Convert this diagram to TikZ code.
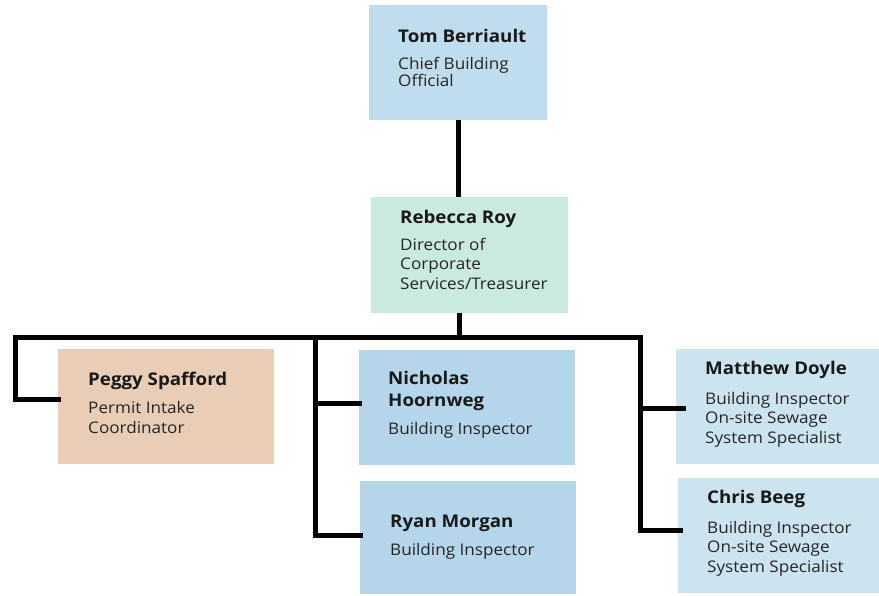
\documentclass[tikz,border=0pt]{standalone}
\usepackage{fontspec}
\setmainfont{Open Sans}[FakeStretch=1.07]
\newcommand{\lns}[1]{\begin{tabular}[t]{@{}l@{}}#1\end{tabular}}
\begin{document}
\begin{tikzpicture}[x=1pt,y=-1pt,
  box/.style={rectangle,draw=none,inner sep=0pt,anchor=north west},
  nm/.style={anchor=base west,inner sep=0pt,font=\fontsize{17.5}{22}\selectfont\bfseries,text=black!90},
  tl/.style={anchor=base west,inner sep=0pt,font=\fontsize{16}{19.5}\selectfont,text=black!85},
  conn/.style={line width=5pt,black,line join=miter,line cap=rect}]
\definecolor{cTom}{HTML}{C0DDEE}
\definecolor{cReb}{HTML}{CAE9E1}
\definecolor{cPeg}{HTML}{E9CDB6}
\definecolor{cIns}{HTML}{B4D5EA}
\definecolor{cSew}{HTML}{CCE3F0}
\useasboundingbox (0,0) rectangle (879,595);
% boxes
\node[box,fill=cTom,minimum width=178pt,minimum height=115pt] (tom) at (369,5) {};
\node[box,fill=cReb,minimum width=197pt,minimum height=116pt] (reb) at (371,197) {};
\node[box,fill=cPeg,minimum width=216pt,minimum height=115pt] (peg) at (58,349) {};
\node[box,fill=cIns,minimum width=216pt,minimum height=115pt] (nic) at (359,350) {};
\node[box,fill=cIns,minimum width=216pt,minimum height=113pt] (ryan) at (360,481) {};
\node[box,fill=cSew,minimum width=203pt,minimum height=115pt] (mat) at (676,349) {};
\node[box,fill=cSew,minimum width=201pt,minimum height=115pt] (chris) at (678,478) {};
% texts
\node[nm] (tomN) at (398,42) {Tom Berriault};
\node[tl,font=\fontsize{16}{17}\selectfont] (tomT) at (398,69) {\lns{Chief Building\\Official}};
\node[nm] (rebN) at (400,223) {Rebecca Roy};
\node[tl] (rebT) at (400,250) {\lns{Director of\\Corporate\\Services/Treasurer}};
\node[nm] (pegN) at (88,385) {Peggy Spafford};
\node[tl,font=\fontsize{16}{20}\selectfont] (pegT) at (88,413) {\lns{Permit Intake\\Coordinator}};
\node[nm] (nicN) at (388,384) {\lns{Nicholas\\Hoornweg}};
\node[tl] (nicT) at (388,434) {Building Inspector};
\node[nm] (ryanN) at (390,527) {Ryan Morgan};
\node[tl] (ryanT) at (390,555) {Building Inspector};
\node[nm] (matN) at (705,374) {Matthew Doyle};
\node[tl] (matT) at (705,404) {\lns{Building Inspector\\On-site Sewage\\System Specialist}};
\node[nm] (chrisN) at (707,503) {Chris Beeg};
\node[tl] (chrisT) at (707,533) {\lns{Building Inspector\\On-site Sewage\\System Specialist}};
% connector coordinates
\coordinate (busL) at (15,337);
\coordinate (busM) at (459,337);
\coordinate (busC) at (315,337);
\coordinate (busR) at (640,337);
\coordinate (pegJ) at ([yshift=7.5pt]peg.west);
\coordinate (nicJ) at ([yshift=4.5pt]nic.west);
\coordinate (ryanJ) at ([yshift=2.5pt]ryan.west);
\coordinate (matJ) at ([xshift=7pt,yshift=-1.5pt]mat.west);
\coordinate (chrisJ) at ([xshift=2pt,yshift=5.5pt]chris.west);
% connectors
\draw[conn,line cap=butt] (tom.south) -- (tom.south |- reb.north);
\draw[conn,line cap=butt] (reb.south -| busM) -- (busM);
\draw[conn] (busR) -- (busL) -- (busL |- pegJ) -- (pegJ);
\draw[conn] (busC) -- (busC |- ryanJ) -- (ryanJ);
\draw[conn] (busC |- nicJ) -- (nicJ);
\draw[conn] (busR) -- (busR |- chrisJ) -- (chrisJ);
\draw[conn] (busR |- matJ) -- (matJ);
\end{tikzpicture}
\end{document}
